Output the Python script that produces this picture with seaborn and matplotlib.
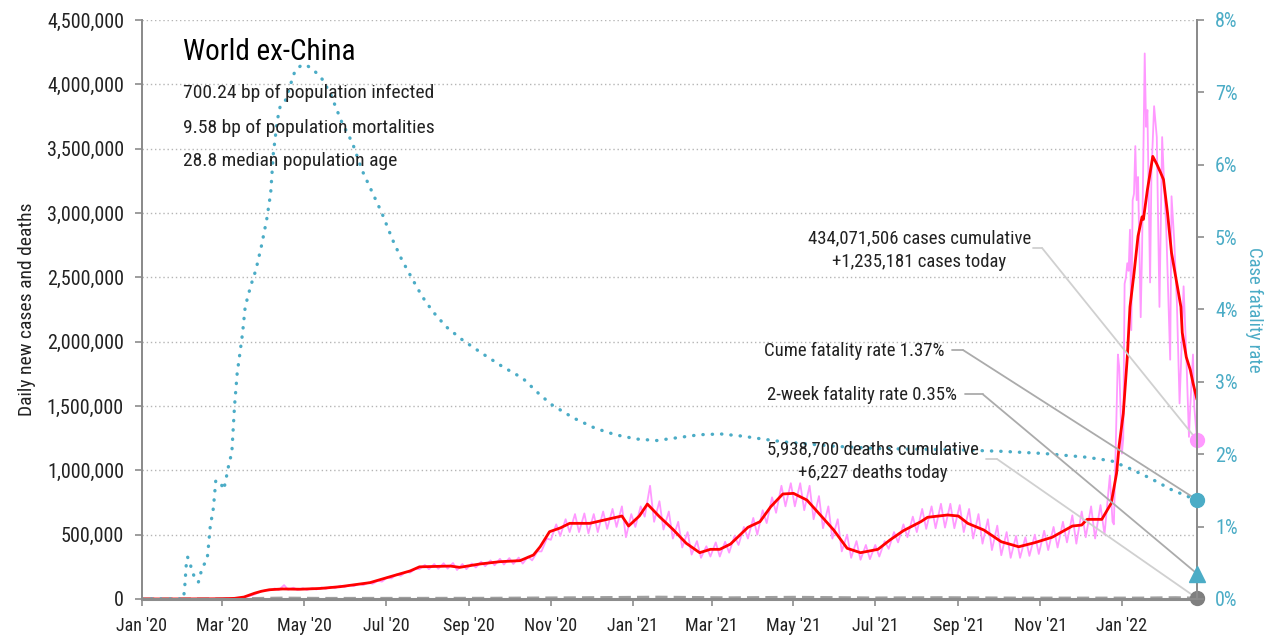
import matplotlib
matplotlib.use("Agg")
import pandas as pd
import matplotlib.pyplot as plt
import matplotlib.dates as mdates
from matplotlib.ticker import FuncFormatter
import seaborn as sns

# ---- data (cases in thousands, rates in %) ----
red_dates = ["2020-01-01", "2020-01-22", "2020-02-20", "2020-03-01", "2020-03-10", "2020-03-17",
             "2020-03-25", "2020-03-30", "2020-04-05", "2020-04-15", "2020-04-28", "2020-05-13",
             "2020-05-28", "2020-06-19", "2020-07-04", "2020-07-19", "2020-07-26", "2020-08-18",
             "2020-08-25", "2020-09-09", "2020-09-24", "2020-10-09", "2020-10-19", "2020-10-24",
             "2020-10-31", "2020-11-08", "2020-11-15", "2020-11-30", "2020-12-13", "2020-12-24",
             "2020-12-29", "2021-01-06", "2021-01-12", "2021-01-21", "2021-01-31", "2021-02-10",
             "2021-02-20", "2021-02-28", "2021-03-07", "2021-03-15", "2021-03-28", "2021-04-06",
             "2021-04-14", "2021-04-23", "2021-05-01", "2021-05-11", "2021-05-21", "2021-05-31",
             "2021-06-10", "2021-06-20", "2021-07-03", "2021-07-12", "2021-07-22", "2021-08-04",
             "2021-08-09", "2021-08-24", "2021-09-01", "2021-09-08", "2021-09-20", "2021-10-03",
             "2021-10-16", "2021-10-28", "2021-11-10", "2021-11-25", "2021-12-02", "2021-12-06",
             "2021-12-17", "2021-12-24", "2021-12-28", "2021-12-30", "2022-01-02", "2022-01-05",
             "2022-01-07", "2022-01-10", "2022-01-13", "2022-01-16", "2022-01-17", "2022-01-20",
             "2022-01-22", "2022-01-24", "2022-01-27", "2022-01-30", "2022-02-01", "2022-02-04",
             "2022-02-07", "2022-02-11", "2022-02-14", "2022-02-15", "2022-02-18", "2022-02-21",
             "2022-02-23", "2022-02-26"]
red_vals = [0, 0, 1, 2, 5, 15,
            45, 60, 72, 78, 76, 82,
            96, 127, 173, 218, 250, 256,
            246, 272, 290, 298, 342, 406,
            523, 552, 588, 588, 619, 645,
            567, 645, 738, 640, 542, 433,
            360, 386, 386, 427, 557, 601,
            717, 816, 821, 769, 653, 536,
            394, 360, 386, 459, 531, 601,
            635, 653, 645, 588, 536, 445,
            406, 438, 480, 567, 575, 619,
            619, 744, 977, 1200, 1440, 1880,
            2270, 2530, 2820, 2970, 2950, 3180,
            3310, 3440, 3380, 3310, 3260, 3000,
            2690, 2450, 2270, 2070, 1880, 1780,
            1680, 1550]

# daily cases: weekly low (Sunday) and high (Thursday) from 2020-03-01 to 2021-12-19
pink_start = "2020-03-01"
pink_lo = [1, 3, 10, 25, 55,
           66, 70, 72, 70, 71, 74, 78, 84, 92,
           100, 108, 118, 135, 160, 180, 205, 232,
           232, 235, 236, 225, 232, 245, 255, 262, 268, 272, 275,
           300, 370, 460, 490, 520, 520, 510, 520, 545, 560, 480,
           560, 640, 600, 540, 470, 400, 345, 320,
           330, 330, 360, 420, 470, 500, 590, 670, 720,
           720, 690, 620, 550, 470, 370, 320, 305,
           310, 330, 390, 440, 480, 520, 545, 550, 555, 550,
           520, 470, 430, 380, 340, 320, 320, 335, 350, 380,
           400, 440, 430, 480, 470, 500]
pink_hi = [3, 6, 18, 40, 68,
           82, 108, 88, 84, 85, 90, 96, 104, 110,
           118, 128, 142, 168, 192, 212, 235, 265,
           272, 278, 280, 272, 276, 290, 300, 312, 318, 322, 330,
           370, 470, 580, 620, 660, 665, 660, 680, 700, 720, 660,
           720, 880, 760, 680, 600, 520, 450, 410,
           440, 445, 490, 560, 630, 690, 790, 880, 900,
           900, 880, 800, 720, 620, 500, 450, 420,
           420, 450, 520, 580, 640, 700, 720, 740, 740, 730,
           700, 660, 620, 570, 520, 490, 480, 500, 530, 560,
           600, 650, 680, 720, 730, 960]
# Omicron wave, daily cases
omi_dates = ["2021-12-25", "2021-12-26", "2021-12-28", "2021-12-29", "2021-12-30", "2022-01-01",
             "2022-01-02", "2022-01-03", "2022-01-04", "2022-01-05", "2022-01-06", "2022-01-07",
             "2022-01-08", "2022-01-09", "2022-01-10", "2022-01-11", "2022-01-12", "2022-01-13",
             "2022-01-15", "2022-01-16", "2022-01-18", "2022-01-19", "2022-01-20", "2022-01-22",
             "2022-01-23", "2022-01-25", "2022-01-27", "2022-01-29", "2022-01-31", "2022-02-02",
             "2022-02-03", "2022-02-06", "2022-02-07", "2022-02-09", "2022-02-11", "2022-02-13",
             "2022-02-14", "2022-02-16", "2022-02-18", "2022-02-20", "2022-02-21", "2022-02-23",
             "2022-02-24", "2022-02-26"]
omi_vals = [600, 580, 1450, 1900, 1800, 1130,
            1250, 2450, 2500, 2610, 2550, 2870,
            2090, 3100, 3150, 3520, 3100, 3280,
            2190, 2700, 4240, 3670, 3800, 2460,
            3300, 3830, 3590, 2270, 3590, 3100,
            2900, 1860, 3130, 2790, 2300, 1520,
            1810, 2430, 1900, 1260, 1500, 1900,
            1490, 1235.181]

cfr_dates = ["2020-01-01", "2020-02-01", "2020-02-02", "2020-02-03", "2020-02-04", "2020-02-06",
             "2020-02-07", "2020-02-09", "2020-02-12", "2020-02-13", "2020-02-14", "2020-02-16",
             "2020-02-18", "2020-02-19", "2020-02-20", "2020-02-21", "2020-02-23", "2020-02-24",
             "2020-02-25", "2020-02-28", "2020-03-02", "2020-03-03", "2020-03-04", "2020-03-06",
             "2020-03-08", "2020-03-10", "2020-03-12", "2020-03-14", "2020-03-16", "2020-03-18",
             "2020-03-22", "2020-03-26", "2020-03-30", "2020-04-03", "2020-04-06", "2020-04-08",
             "2020-04-11", "2020-04-13", "2020-04-17", "2020-04-21", "2020-04-24", "2020-04-29",
             "2020-05-04", "2020-05-09", "2020-05-15", "2020-05-21", "2020-05-29", "2020-06-06",
             "2020-06-13", "2020-06-21", "2020-06-28", "2020-07-06", "2020-07-13", "2020-07-21",
             "2020-07-28", "2020-08-05", "2020-08-15", "2020-08-27", "2020-09-11", "2020-09-26",
             "2020-10-11", "2020-10-24", "2020-11-02", "2020-11-18", "2020-12-04", "2020-12-19",
             "2021-01-04", "2021-01-19", "2021-02-04", "2021-02-20", "2021-03-08", "2021-03-24",
             "2021-04-08", "2021-04-24", "2021-06-01", "2021-07-02", "2021-08-02", "2021-09-02",
             "2021-10-04", "2021-11-04", "2021-12-05", "2021-12-24", "2022-01-06", "2022-01-22",
             "2022-02-07", "2022-02-20", "2022-02-26"]
cfr_vals = [0, 0, 0.2, 0.47, 0.58, 0.49,
            0.40, 0.31, 0.23, 0.29, 0.37, 0.47,
            0.52, 0.61, 0.82, 1.02, 1.22, 1.41,
            1.63, 1.63, 1.51, 1.60, 1.69, 1.88,
            2.02, 2.66, 3.12, 3.39, 3.67, 4.04,
            4.32, 4.55, 4.87, 5.24, 5.61, 6.16,
            6.62, 6.80, 6.89, 7.12, 7.29, 7.38,
            7.36, 7.29, 7.17, 6.96, 6.59, 6.30,
            5.93, 5.61, 5.33, 4.96, 4.68, 4.41,
            4.18, 3.97, 3.76, 3.58, 3.39, 3.21,
            3.05, 2.82, 2.68, 2.50, 2.36, 2.27,
            2.21, 2.19, 2.23, 2.27, 2.28, 2.25,
            2.21, 2.17, 2.11, 2.08, 2.07, 2.06,
            2.04, 2.01, 1.96, 1.91, 1.81, 1.67,
            1.51, 1.41, 1.37]
two_week_cfr = 0.35

death_dates = ["2020-01-01", "2020-03-01", "2020-04-01", "2020-04-15", "2020-05-15", "2020-07-15",
               "2020-09-15", "2020-11-15", "2021-01-20", "2021-03-15", "2021-05-01", "2021-07-01",
               "2021-08-20", "2021-10-15", "2021-12-15", "2022-01-15", "2022-02-10", "2022-02-26"]
death_vals = [0, 0.1, 5, 7, 4.5, 5, 5.5, 9, 14, 9, 13, 8, 10, 7, 7, 7, 10, 6.227]

title = "World ex-China"
subtitle = ["700.24 bp of population infected",
            "9.58 bp of population mortalities",
            "28.8 median population age"]
cases_note = "434,071,506 cases cumulative\n+1,235,181 cases today"
deaths_note = "5,938,700 deaths cumulative\n+6,227 deaths today"
cfr_note = "Cume fatality rate 1.37%"
cfr2_note = "2-week fatality rate 0.35%"

# ---- build frames ----
red = pd.DataFrame({"date": pd.to_datetime(red_dates), "cases": [v * 1000 for v in red_vals]})

p_dates, p_vals = [pd.Timestamp("2020-01-01"), pd.Timestamp("2020-02-20")], [0, 1000]
t0 = pd.Timestamp(pink_start)
for i, (lo, hi) in enumerate(zip(pink_lo, pink_hi)):
    p_dates += [t0 + pd.Timedelta(days=7 * i), t0 + pd.Timedelta(days=7 * i + 4)]
    p_vals += [lo * 1000, hi * 1000]
p_dates += list(pd.to_datetime(omi_dates))
p_vals += [v * 1000 for v in omi_vals]
pink = pd.DataFrame({"date": p_dates, "cases": p_vals})

cfr = pd.DataFrame({"date": pd.to_datetime(cfr_dates), "rate": cfr_vals})
deaths = pd.DataFrame({"date": pd.to_datetime(death_dates), "deaths": [v * 1000 for v in death_vals]})

# ---- style ----
sns.set_theme(style="white")
plt.rcParams["font.family"] = ["Liberation Sans Narrow", "Roboto Condensed", "DejaVu Sans"]
TEAL = "#4bacc6"
PINK = "#ff99ff"
AXC = "#8c8c8c"

fig = plt.figure(figsize=(12.7, 6.4), dpi=100)
ax = fig.add_axes([142 / 1270, 41 / 640, 1055 / 1270, 579 / 640])
ax2 = ax.twinx()

sns.lineplot(data=deaths, x="date", y="deaths", ax=ax, color="#a0a0a0", lw=2.2,
             linestyle=(0, (4, 2)), estimator=None)
sns.lineplot(data=pink, x="date", y="cases", ax=ax, color=PINK, lw=1.3, estimator=None)
sns.lineplot(data=red, x="date", y="cases", ax=ax, color="#ff0000", lw=2.0, estimator=None)
sns.lineplot(data=cfr, x="date", y="rate", ax=ax2, color=TEAL, lw=2.4,
             linestyle=(0, (0.1, 2.7)), estimator=None, dash_capstyle="round")

last = pink["date"].iloc[-1]
ax.plot([last], [pink["cases"].iloc[-1]], "o", color=PINK, ms=10, clip_on=False, zorder=5)
ax.plot([last], [deaths["deaths"].iloc[-1]], "o", color="#7f7f7f", ms=10, clip_on=False, zorder=5)
ax2.plot([last], [cfr["rate"].iloc[-1]], "o", color=TEAL, ms=10, clip_on=False, zorder=5)
ax2.plot([last], [two_week_cfr], "^", color=TEAL, ms=11, clip_on=False, zorder=5)

# ---- axes ----
ax.set_xlim(pd.Timestamp("2020-01-01"), last)
ax.set_ylim(0, 4_500_000)
ax2.set_ylim(0, 8)
ax.set_yticks(range(0, 4_500_001, 500_000))
ax.yaxis.set_major_formatter(FuncFormatter(lambda v, p: f"{int(v):,}"))
ax2.set_yticks(range(0, 9))
ax2.yaxis.set_major_formatter(FuncFormatter(lambda v, p: f"{int(v)}%"))
ax.xaxis.set_major_locator(mdates.MonthLocator(bymonth=[1, 3, 5, 7, 9, 11]))
ax.xaxis.set_major_formatter(FuncFormatter(lambda v, p: mdates.num2date(v).strftime("%b '%y")))

ax.yaxis.grid(True, linestyle=(0, (1, 2)), color="#b5b5b5", lw=1)
ax.set_axisbelow(True)
for a in (ax, ax2):
    a.spines["top"].set_visible(False)
    for s in ("left", "right", "bottom"):
        a.spines[s].set_color(AXC)
        a.spines[s].set_linewidth(1.4)
ax.spines["bottom"].set_linewidth(2.2)
ax.tick_params(axis="y", length=5, color=AXC, width=1.2, labelsize=14.5, pad=8, labelcolor="#222222")
ax.tick_params(axis="x", length=5, color=AXC, width=1.2, labelsize=13, pad=8, labelcolor="#222222",
               bottom=True)
ax2.tick_params(axis="y", length=5, color=AXC, width=1.2, labelsize=14.5, pad=8, labelcolor=TEAL)

ax.set_xlabel("")
ax.set_ylabel("Daily new cases and deaths", fontsize=14, color="#222222", labelpad=8)
ax2.set_ylabel("Case fatality rate", fontsize=13.5, color=TEAL, rotation=270, labelpad=18)

# ---- text ----
ax2.text(0.039, 0.945, title, transform=ax2.transAxes, fontsize=21, va="center", ha="left",
         color="black")
for txt, fy in zip(subtitle, [0.874, 0.8135, 0.7565]):
    ax2.text(0.039, fy, txt, transform=ax2.transAxes, fontsize=14, va="center", ha="left",
             color="#222222")

note_kw = dict(transform=ax2.transAxes, fontsize=13.5, color="#222222", linespacing=1.4)
ax2.text(0.737, 0.6028, cases_note, ha="center", va="center", multialignment="center", **note_kw)
ax2.text(0.7611, 0.4283, cfr_note, ha="right", va="center", **note_kw)
ax2.text(0.7725, 0.3523, cfr2_note, ha="right", va="center", **note_kw)
ax2.text(0.6929, 0.2383, deaths_note, ha="center", va="center", multialignment="center", **note_kw)


def leader(x0, x1, fy, target_ax, target_val, color):
    ax2.plot([x0, x1], [fy, fy], transform=ax2.transAxes, color=color, lw=1.3, clip_on=False)
    target_ax.annotate("", xy=(last, target_val), xycoords="data",
                       xytext=(x1, fy), textcoords=ax2.transAxes,
                       arrowprops=dict(arrowstyle="-", color=color, lw=1.3,
                                       shrinkA=0, shrinkB=0))


leader(0.8445, 0.8531, 0.6063, ax, pink["cases"].iloc[-1], "#d0d0d0")
leader(0.7678, 0.7782, 0.4300, ax2, cfr["rate"].iloc[-1], "#ababab")
leader(0.7801, 0.7972, 0.3532, ax2, two_week_cfr, "#ababab")
leader(0.8000, 0.8104, 0.2418, ax, deaths["deaths"].iloc[-1], "#d0d0d0")

fig.savefig("out.png", dpi=100)
